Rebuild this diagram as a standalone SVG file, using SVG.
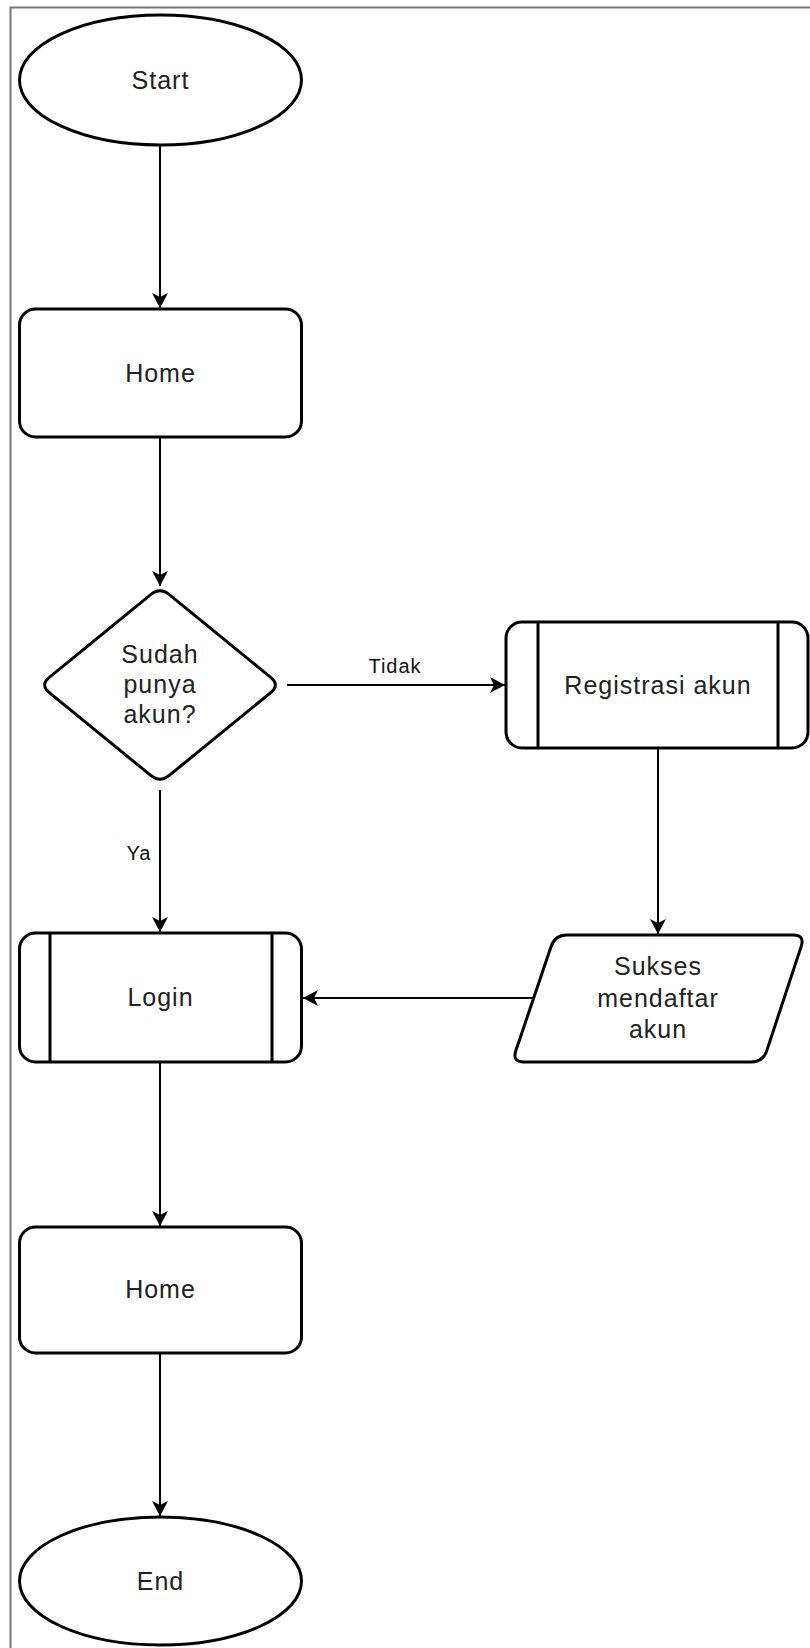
<svg xmlns="http://www.w3.org/2000/svg" width="810" height="1648" viewBox="0 0 810 1648">
<defs>
<marker id="arr" viewBox="0 0 16 16" refX="15" refY="8" markerWidth="16" markerHeight="16" markerUnits="userSpaceOnUse" orient="auto">
<path d="M15,8 L0,0 L4,8 L0,16 Z" fill="#000"/>
</marker>
<style>
.s{fill:#fff;stroke:#000;stroke-width:3}
.t{font-family:"Liberation Sans",Arial,sans-serif;font-size:25px;letter-spacing:1px;fill:#222;text-anchor:middle}
.l{font-family:"Liberation Sans",Arial,sans-serif;font-size:20px;letter-spacing:1px;fill:#111;text-anchor:middle}
.c{fill:none;stroke:#000;stroke-width:2;marker-end:url(#arr)}
</style>
</defs>
<rect width="810" height="1648" fill="#fff"/>
<path d="M10.5,1648 V7.5 H810" fill="none" stroke="#777" stroke-width="2"/>
<g id="connectors">
<line class="c" x1="160" y1="146" x2="160" y2="308"/>
<line class="c" x1="160" y1="438" x2="160" y2="586"/>
<line class="c" x1="287" y1="685" x2="505" y2="685"/>
<text class="l" x="395" y="673">Tidak</text>
<line class="c" x1="160" y1="790" x2="160" y2="932"/>
<text class="l" x="139" y="860">Ya</text>
<line class="c" x1="658" y1="749" x2="658" y2="934"/>
<line class="c" x1="533" y1="998" x2="303" y2="998"/>
<line class="c" x1="160" y1="1063" x2="160" y2="1226"/>
<line class="c" x1="160" y1="1354" x2="160" y2="1516"/>
</g>
<g id="start">
<ellipse class="s" cx="160.5" cy="80" rx="141" ry="65"/>
<text class="t" x="160.5" y="89">Start</text>
</g>
<g id="home1">
<rect class="s" x="19.5" y="309" width="282" height="128" rx="16"/>
<text class="t" x="160.5" y="382">Home</text>
</g>
<g id="decision">
<path class="s" d="M169.3,594.6 L270.7,677.4 Q280,685 270.7,692.6 L169.3,775.4 Q160,783 150.7,775.4 L49.3,692.6 Q40,685 49.3,677.4 L150.7,594.6 Q160,587 169.3,594.6 Z"/>
<text class="t" x="160" y="663">Sudah</text>
<text class="t" x="160" y="693">punya</text>
<text class="t" x="160" y="723">akun?</text>
</g>
<g id="registrasi">
<rect class="s" x="506" y="622" width="302" height="126" rx="16"/>
<line x1="538" y1="622" x2="538" y2="748" stroke="#000" stroke-width="3"/>
<line x1="778" y1="622" x2="778" y2="748" stroke="#000" stroke-width="3"/>
<text class="t" x="658" y="694">Registrasi akun</text>
</g>
<g id="sukses">
<path class="s" d="M567,935 L793,935 Q805,935 801.2,946.4 L766.8,1050.6 Q763,1062 751,1062 L524,1062 Q512,1062 515.9,1050.6 L551.1,946.4 Q555,935 567,935 Z"/>
<text class="t" x="658" y="975">Sukses</text>
<text class="t" x="658" y="1007">mendaftar</text>
<text class="t" x="658" y="1038">akun</text>
</g>
<g id="login">
<rect class="s" x="19.5" y="933" width="282" height="129" rx="16"/>
<line x1="50" y1="933" x2="50" y2="1062" stroke="#000" stroke-width="3"/>
<line x1="272" y1="933" x2="272" y2="1062" stroke="#000" stroke-width="3"/>
<text class="t" x="160.5" y="1006">Login</text>
</g>
<g id="home2">
<rect class="s" x="19.5" y="1227" width="282" height="126" rx="16"/>
<text class="t" x="160.5" y="1298">Home</text>
</g>
<g id="end">
<ellipse class="s" cx="160.5" cy="1581" rx="141" ry="64"/>
<text class="t" x="160.5" y="1590">End</text>
</g>
</svg>
